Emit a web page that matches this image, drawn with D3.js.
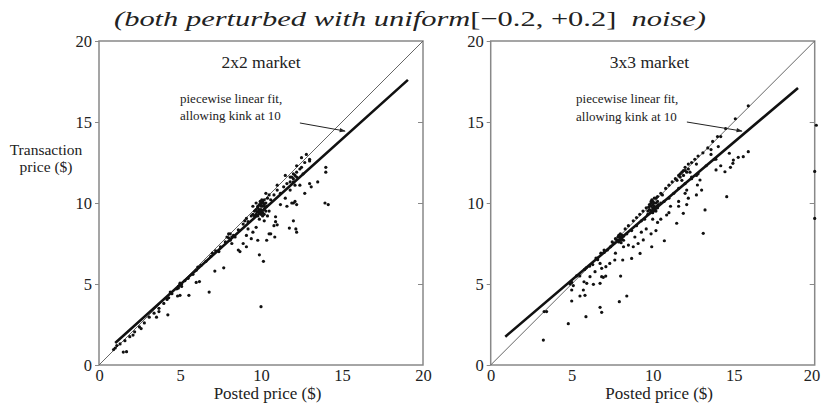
<!DOCTYPE html>
<html><head><meta charset="utf-8">
<script src="https://cdn.jsdelivr.net/npm/d3@7"></script>
<style>body{margin:0;background:#fff}svg{display:block}text{font-family:"Liberation Serif","Times New Roman",serif;fill:#222}</style>
</head><body>
<svg id="c" width="821" height="404"></svg>
<script>
const ticks = [0,5,10,15,20];
const panelTitles = ["2x2 market","3x3 market"];
const annotation = ["piecewise linear fit,","allowing kink at 10"];
const xLabel = "Posted price ($)";
const yLabel = ["Transaction","price ($)"];
const fit2x2 = [[1.0,1.36],[10,9.45],[19.07,17.6]];
const fit3x3 = [[0.9,1.75],[10,9.5],[18.97,17.1]];
const pts2x2 = [
[0.9,0.95],[1.0,1.05],[1.1,1.2],[1.3,1.3],[1.6,1.5],[1.9,1.75],[2.2,2.05],[2.5,2.35],[2.8,2.6],[3.1,2.95],[3.4,3.2],[3.7,3.5],[4.0,3.8],[4.2,4.05],[4.3,4.15],[4.5,4.4],[4.8,4.7],[4.9,4.85],[5.0,4.95],[5.1,5.0],[5.3,5.2],[5.5,5.35],[5.8,5.6],[6.0,5.85],[6.1,6.05],[6.3,6.15],[6.6,6.4],[6.9,6.7],[7.0,6.9],[7.2,7.05],[7.5,7.3],[7.8,7.6],[8.0,7.85],[8.1,8.1],[8.3,8.0],[8.6,8.35],[8.9,8.7],[9.0,8.9],[9.1,9.05],[9.2,8.85],[9.4,9.2],[9.5,9.3],[9.6,9.5],[9.7,9.6],[9.8,9.7],[9.9,9.9],[10.0,10.0],[10.0,9.6],[10.1,9.8],[10.1,10.1],[10.2,9.9],[10.2,10.2],[9.9,9.4],[9.8,9.2],[10.0,9.3],[10.3,10.0],[10.4,10.3],[10.5,10.5],[10.6,10.2],[10.8,10.5],[11.0,10.8],[11.2,10.6],[11.4,11.0],[11.6,11.2],[11.8,11.6],[12.0,11.8],[12.0,11.3],[12.2,11.9],[12.4,12.1],[12.5,12.2],[12.7,12.5],[12.8,13.0],[13.0,12.6],[11.5,11.7],[11.0,11.1],[12.2,12.3],[9.5,9.8],[9.7,10.0],[10.3,10.6],
[9.8,9.8],[9.9,9.6],[10.0,9.8],[10.05,9.5],[10.1,9.4],[10.2,9.6],[10.15,10.0],[9.95,10.1],[10.25,9.75],[10.0,9.9],[9.85,9.5],[10.1,9.2],[9.7,9.3],[10.3,9.5],[9.9,9.0],[10.05,10.2],[9.75,9.45],[10.2,9.3],[10.35,9.8],[9.6,9.2],
[7.9,7.9],[8.1,7.7],[8.0,8.1],[8.2,7.9],[5.0,5.05],[4.9,4.75],[5.1,4.85],[4.4,4.5],
[11.9,11.6],[12.1,11.7],[12.0,11.5],[12.2,11.6],[11.8,11.3],[12.1,11.1],
[1.5,0.8],[1.7,0.82],[2.1,1.85],[2.6,2.25],[3.55,2.95],[3.7,3.3],[4.25,3.1],[4.85,4.26],[5.0,4.3],[5.55,4.3],[6.0,5.1],[6.2,5.15],[6.8,4.5],[7.15,5.8],[7.7,6.0],[8.6,7.1],[8.7,7.0],[9.1,7.3],[9.5,8.2],[9.8,7.7],[9.9,6.8],[10.0,3.6],[10.15,6.4],[10.35,7.7],[10.6,8.1],[10.85,7.9],[10.5,8.1],[11.0,8.65],[10.9,9.15],[10.9,8.85],[10.8,8.6],[11.75,8.45],[12.0,8.9],[12.15,8.4],[12.2,8.2],[12.0,10.0],[12.2,9.9],[11.6,9.8],[11.9,10.0],[12.1,10.1],[13.95,10.0],[14.15,9.9],[11.2,9.9],[11.5,10.3],[11.8,10.8],[12.4,11.1],[12.7,10.6],[13.1,11.0],[13.0,11.2],[13.5,11.3],[14.0,11.9],[14.0,12.2],[12.6,11.8],[9.2,8.4],[9.4,7.8],[9.7,8.5],[10.2,8.9],[10.4,9.2],[8.2,7.5],[8.9,7.5],[10.5,9.5],[9.1,8.0],[7.4,7.0],[8.4,7.9],[13.0,12.7],[12.5,12.8]
];
const pts3x3 = [
[3.3,3.3],[4.9,5.0],[5.0,5.1],[5.1,4.9],[5.5,5.5],[5.9,6.0],[6.1,6.1],[6.5,6.6],[6.8,6.9],[7.0,7.1],[7.2,7.1],[7.5,7.6],[7.7,7.8],[7.9,8.0],[8.0,8.1],[8.1,7.9],[8.3,8.4],[8.5,8.6],[8.8,8.9],[9.0,9.1],[9.2,9.3],[9.4,9.5],[9.6,9.7],[9.8,9.9],[9.9,10.0],[10.0,10.1],[10.1,10.0],[10.2,10.3],[10.3,10.4],[10.5,10.6],[10.6,10.5],[10.8,10.9],[11.0,11.1],[11.2,11.3],[11.4,11.5],[11.5,11.4],[11.7,11.8],[11.9,12.0],[12.0,12.2],[12.2,12.4],[12.4,12.5],[12.6,12.7],[12.8,12.9],[13.1,13.1],[13.4,13.4],[13.7,13.8],[14.0,14.1],[14.5,14.6],[14.2,14.1],[15.1,15.2],[15.9,16.0],[13.6,13.3],[12.7,12.4],
[9.8,9.6],[9.9,9.8],[10.0,9.9],[10.1,9.8],[10.0,9.7],[9.95,10.2],[10.2,10.0],[10.15,9.6],[9.85,9.4],[10.05,9.5],[10.25,9.8],[9.7,9.5],[10.3,10.1],[9.9,10.1],[10.1,10.3],[10.0,9.4],[9.75,9.75],[10.35,9.9],
[7.8,7.7],[8.0,7.7],[7.9,7.6],[8.1,8.0],[8.0,7.9],[8.2,7.7],[7.85,7.9],[8.05,7.55],
[11.8,11.9],[12.0,12.0],[12.1,11.9],[11.9,11.7],[12.2,12.1],[11.7,11.6],[12.3,11.9],[11.6,11.7],
[5.3,5.5],[5.8,5.9],[6.3,6.2],[6.6,6.6],[7.0,6.95],[7.4,7.3],[7.6,7.5],[7.9,7.7],[8.0,7.85],[8.1,7.8],[8.2,7.95],[8.4,8.1],[8.7,8.3],[9.0,8.6],[9.3,8.9],[9.5,9.0],[9.7,9.3],[9.9,9.5],[10.0,9.6],[10.1,9.7],[10.2,9.5],[10.3,9.7],[10.5,10.0],[10.7,10.1],[11.0,10.3],[11.3,10.6],[11.6,10.9],[12.0,11.2],[12.4,11.5],[12.8,11.8],[13.3,12.3],[13.8,12.7],
[3.25,1.54],[4.79,2.55],[3.45,3.3],[5.88,2.98],[6.85,3.25],[6.75,3.56],[7.94,3.91],[5.0,3.95],[5.51,4.26],[5.82,4.3],[5.0,4.63],[5.72,4.63],[5.93,5.04],[6.34,4.98],[6.75,5.04],[6.85,5.45],[6.95,5.41],[7.1,5.49],[8.4,4.26],[8.02,5.49],[6.13,5.45],[5.76,5.14],[6.44,5.76],[6.85,5.97],[7.11,6.07],[7.35,6.27],[7.66,6.48],[6.75,6.27],[6.6,6.5],[8.15,6.48],[8.7,6.58],[9.22,6.89],[8.8,7.3],[9.1,7.5],[9.42,7.72],[9.9,8.1],[10.2,8.3],[9.94,7.3],[10.72,7.67],[10.86,9.26],[11.0,9.4],[11.48,8.75],[11.89,9.36],[12.1,9.9],[13.12,8.13],[13.23,9.57],[11.6,9.8],[11.1,9.8],[12.2,10.3],[12.1,10.8],[12.7,10.5],[12.0,10.6],[11.6,10.1],[11.8,11.4],[12.4,11.6],[12.7,11.7],[12.92,11.42],[12.76,11.11],[13.02,10.8],[14.57,10.39],[14.05,13.48],[14.73,13.07],[15.28,12.82],[15.59,12.86],[15.9,13.17],[14.98,12.65],[14.95,12.45],[14.8,12.2],[14.46,11.93],[13.91,12.04],[14.2,12.3],[13.6,13.0],[13.9,12.7],[10.3,8.8],[10.5,9.0],[10.0,9.0],[9.6,8.4],[9.3,8.2],[8.5,7.4],[8.9,7.9],[8.2,7.3],[7.7,6.9],
[20.1,14.8],[20,11.95],[20,9.05]
];
const panels = [
  {ox:99, title:panelTitles[0], pts:pts2x2, fit:fit2x2, titleX:10, ann:{x:5.0, y1:16.17, y2:15.12, a:[[12.4,14.94],[15.19,14.44]]}, yl:true},
  {ox:490.7, title:panelTitles[1], pts:pts3x3, fit:fit3x3, titleX:9.8, ann:{x:5.27, y1:16.17, y2:15.05, a:[[12.11,15.0],[15.51,14.44]]}, yl:false}
];
const svg = d3.select("#c");
const W = 324, topY = 41, botY = 365;
svg.append("defs").append("marker").attr("id","ah").attr("viewBox","0 0 10 10").attr("refX",9).attr("refY",5)
  .attr("markerWidth",7).attr("markerHeight",6).attr("orient","auto")
  .append("path").attr("d","M0,1.5L10,5L0,8.5z").attr("fill","#222");

const t = svg.append("text").attr("x",410).attr("y",26).attr("text-anchor","middle")
  .style("font-family","'Liberation Serif',serif").style("font-size","22px");
t.append("tspan").style("font-style","italic").text("(both perturbed with uniform");
t.append("tspan").text("[\u22120.2, +0.2]");
t.append("tspan").style("font-style","italic").text("\u00a0 noise)");
t.attr("textLength",592).attr("lengthAdjust","spacingAndGlyphs");

panels.forEach(p => {
  const x = d3.scaleLinear([0,20],[p.ox,p.ox+W]);
  const y = d3.scaleLinear([0,20],[botY,topY]);
  const g = svg.append("g");
  const ya = g.append("g").attr("transform",`translate(${p.ox},0)`).call(d3.axisLeft(y).tickValues(ticks).tickSize(4).tickPadding(3));
  ya.select(".domain").remove();
  ya.selectAll("line").attr("stroke","#888");
  ya.selectAll("text").style("font-size","16.5px").style("font-family","'Liberation Serif',serif").attr("fill","#222");
  const yr = g.append("g").attr("transform",`translate(${p.ox+W},0)`).call(d3.axisLeft(y).tickValues(ticks.slice(1,4)).tickSize(5).tickFormat(""));
  yr.select(".domain").remove(); yr.selectAll("line").attr("stroke","#888");
  const xa = g.append("g").attr("transform",`translate(0,${botY})`).call(d3.axisBottom(x).tickValues(ticks).tickSize(0).tickPadding(4));
  xa.select(".domain").remove();
  xa.selectAll("text").style("font-size","16.5px").style("font-family","'Liberation Serif',serif").attr("fill","#222");
  xa.selectAll(".tick").filter(d=>d===20).select("text").attr("dx", p.ox>400 ? "-0.2em" : "0");
  g.append("rect").attr("x",x(0)).attr("y",y(20)).attr("width",x(20)-x(0)).attr("height",y(0)-y(20))
    .attr("fill","none").attr("stroke","#888").attr("stroke-width",1.5);
  g.append("line").attr("x1",x(0)).attr("y1",y(0)).attr("x2",x(20)).attr("y2",y(20)).attr("stroke","#666").attr("stroke-width",1);
  g.append("g").selectAll("circle").data(p.pts).join("circle")
    .attr("cx",d=>x(d[0])).attr("cy",d=>y(d[1])).attr("r",1.6).attr("fill","#111");
  g.append("path").datum(p.fit).attr("d",d3.line().x(d=>x(d[0])).y(d=>y(d[1])))
    .attr("fill","none").attr("stroke","#111").attr("stroke-width",2.6);
  g.append("text").attr("x",x(p.titleX)).attr("y",68).attr("text-anchor","middle").style("font-size","17.5px").text(p.title);
  g.append("text").attr("x",x(p.ann.x)).attr("y",y(p.ann.y1)).style("font-size","13px").text(annotation[0]);
  g.append("text").attr("x",x(p.ann.x)).attr("y",y(p.ann.y2)).style("font-size","13px").text(annotation[1]);
  g.append("line").attr("x1",x(p.ann.a[0][0])).attr("y1",y(p.ann.a[0][1])).attr("x2",x(p.ann.a[1][0])).attr("y2",y(p.ann.a[1][1]))
    .attr("stroke","#222").attr("stroke-width",1).attr("marker-end","url(#ah)");
  g.append("text").attr("x",x(10.4)).attr("y",399).attr("text-anchor","middle").style("font-size","17px").text(xLabel);
  if (p.yl) {
    g.append("text").attr("x",46).attr("y",155).attr("text-anchor","middle").style("font-size","15.5px").text(yLabel[0]);
    g.append("text").attr("x",46).attr("y",172).attr("text-anchor","middle").style("font-size","15.5px").text(yLabel[1]);
  }
});
</script>
</body></html>
